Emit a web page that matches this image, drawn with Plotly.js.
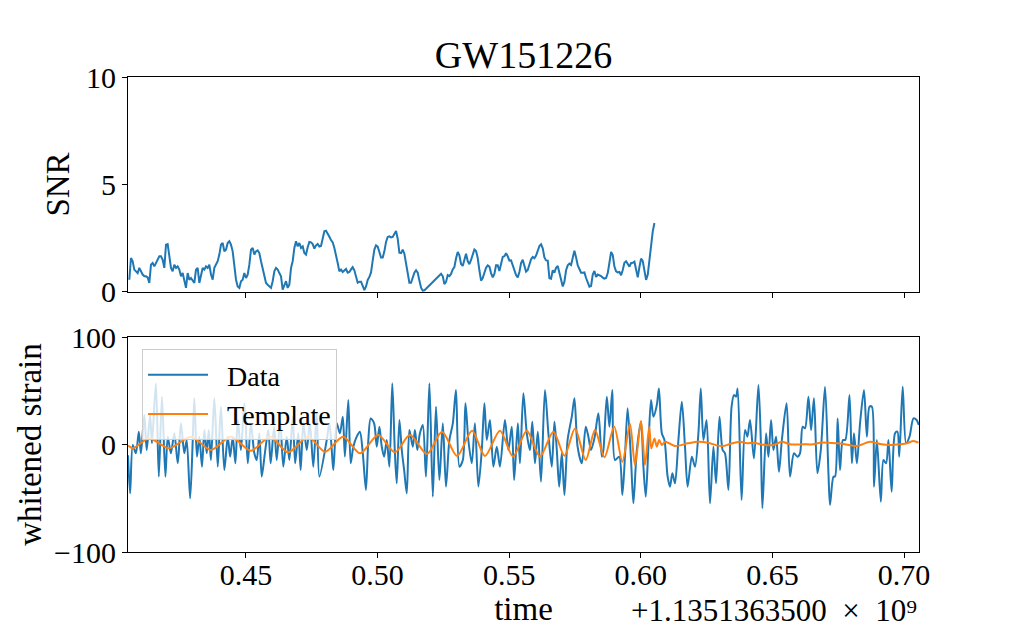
<!DOCTYPE html>
<html><head><meta charset="utf-8">
<script src="https://cdn.plot.ly/plotly-3.0.1.min.js"></script>
<style>html,body{margin:0;padding:0;background:#fff}</style>
</head><body><div id="chart" style="width:1021px;height:631px"></div>
<script>
// SNR time series (uniform sampling grid)
const snrT0 = 0.4057;
const snrDt = 0.0006333;
const snrValues = [
0.57,1.58,1.43,1.04,0.96,0.88,1.12,0.96,0.81,0.73,
0.73,0.68,0.42,1.27,1.35,1.19,1.35,1.58,1.66,1.66,
1.50,1.12,2.20,2.23,1.74,1.12,0.96,1.27,1.12,1.19,
1.04,0.73,0.88,0.57,0.19,0.88,0.57,0.65,0.50,0.42,
1.04,1.12,0.42,0.73,1.12,1.04,1.19,1.12,1.27,0.81,
0.57,1.12,1.27,1.43,1.74,2.20,2.28,1.89,1.97,2.28,
2.36,2.20,1.89,1.27,0.57,0.26,0.19,0.50,0.57,0.88,
0.65,0.81,1.27,1.97,2.05,1.74,1.89,1.94,1.81,1.43,
1.12,0.73,0.42,0.34,0.26,0.19,0.50,0.96,1.12,1.04,
0.88,0.73,0.11,0.34,0.50,0.19,0.34,1.12,1.43,2.05,
2.36,2.12,2.28,2.05,2.12,1.81,1.74,
2.08,2.33,2.31,2.23,2.02,2.17,2.23,2.11,2.14,2.43,
2.82,2.85,2.73,2.57,2.42,2.31,2.05,1.74,1.35,0.96,
1.04,0.93,0.99,1.07,0.90,0.93,1.05,1.16,1.01,0.70,
0.43,0.48,0.48,0.28,0.09,0.26,0.56,0.70,0.91,1.46,
1.97,2.17,2.11,1.86,1.60,1.60,1.89,2.33,2.56,2.59,
2.54,2.56,2.68,2.84,2.48,1.83,1.81,1.97,1.78,1.33,
0.79,0.43,0.43,0.68,0.90,1.01,0.90,0.53,0.20,0.06,
0.08,0.15,0.23,0.31,0.39,0.47,0.54,0.62,0.70,0.78,
0.85,0.74,0.37,0.47,0.79,0.74,0.84,1.05,1.16,1.57,
1.86,1.71,1.30,1.21,1.53,1.78,1.44,1.29,1.49,1.77,
1.98,1.91,1.58,1.01,
0.53,0.65,0.91,1.13,1.24,1.18,0.88,0.68,0.84,1.24,
1.24,0.98,1.30,1.63,1.66,1.80,1.66,1.46,1.47,1.27,
0.98,0.79,0.68,0.93,1.35,1.50,1.22,0.95,1.02,1.30,
1.52,1.63,1.57,1.69,1.95,2.14,2.22,2.03,1.61,1.47,
1.46,0.64,0.62,1.01,0.90,1.13,1.21,0.84,0.56,0.26,
0.48,1.01,1.24,1.32,1.26,1.66,1.92,1.61,1.24,1.07,
0.90,0.90,0.91,0.65,0.40,0.25,0.28,0.81,0.98,0.70,
0.81,0.78,0.74,0.67,0.62,0.65,0.88,1.36,1.86,1.72,
1.18,0.96,0.91,0.93,0.78,1.02,1.36,1.43,1.33,1.18,
1.35,1.36,1.41,1.04,0.68,1.16,1.55,1.44,1.07,0.56,
0.81,1.49,2.11,2.82,3.21
];
const snrTimes = snrValues.map((v, i) => snrT0 + i * snrDt);

// Whitened strain data
const strainTimes = [
0.4052,0.4060,0.4070,0.4082,0.4093,0.4101,0.4114,0.4123,0.4136,0.4143,
0.4158,0.4169,0.4181,0.4194,0.4203,0.4215,0.4228,0.4241,0.4253,0.4266,
0.4275,0.4288,0.4298,0.4304,0.4314,0.4323,0.4333,0.4342,0.4351,0.4359,
0.4367,0.4380,0.4393,0.4405,0.4418,0.4431,0.4440,0.4450,0.4460,0.4469,
0.4481,0.4494,0.4507,0.4519,0.4532,
0.4541,0.4551,0.4560,0.4572,0.4585,0.4594,0.4607,0.4617,0.4630,0.4642,
0.4655,0.4665,0.4678,0.4687,0.4699,0.4708,0.4718,0.4731,0.4743,0.4756,
0.4769,0.4779,
0.4807,0.4817,0.4826,0.4832,0.4845,0.4857,0.4868,0.4876,0.4889,0.4898,
0.4908,0.4921,0.4933,0.4944,0.4956,0.4965,0.4974,0.4987,0.4997,0.5007,
0.5016,0.5025,0.5035,0.5045,0.5056,0.5066,0.5073,0.5083,0.5092,0.5101,
0.5111,0.5121,0.5134,0.5142,0.5151,0.5161,0.5172,0.5184,0.5197,0.5210,
0.5222,0.5235,0.5248,0.5260,0.5273,0.5286,0.5298,0.5311,0.5324,0.5334,
0.5345,0.5358,0.5370,0.5383,0.5396,0.5406,0.5415,0.5427,0.5440,0.5453,
0.5465,0.5484,0.5497,0.5510,0.5519,
0.5533,0.5541,0.5554,0.5567,0.5579,0.5588,0.5598,0.5609,0.5621,0.5636,
0.5649,0.5662,0.5672,0.5681,0.5690,0.5700,0.5710,0.5722,0.5738,0.5748,
0.5760,0.5776,0.5791,0.5801,0.5811,0.5824,0.5839,0.5852,0.5858,0.5871,
0.5881,0.5892,0.5902,0.5918,0.5930,0.5940,0.5950,0.5963,0.5972,0.5985,
0.6001,0.6010,0.6019,0.6029,0.6039,0.6048,0.6061,0.6069,0.6080,0.6090,
0.6102,0.6111,0.6120,0.6130,0.6143,0.6156,0.6168,0.6178,0.6194,0.6206,
0.6219,0.6228,0.6238,0.6250,0.6263,
0.6276,0.6286,0.6299,0.6311,0.6320,0.6333,0.6345,0.6354,0.6362,0.6368,
0.6383,0.6396,0.6405,0.6415,0.6430,0.6447,0.6456,0.6462,0.6476,0.6485,
0.6495,0.6504,0.6514,0.6525,0.6536,0.6554,0.6567,0.6582,0.6595,0.6605,
0.6615,0.6624,0.6637,0.6647,0.6658,0.6671,0.6684,0.6700,0.6713,0.6719,
0.6732,0.6738,0.6748,0.6757,0.6768,0.6777,0.6793,0.6802,0.6810,0.6821,
0.6833,0.6848,0.6859,0.6869,0.6878,0.6886,0.6897,0.6912,0.6922,0.6932,
0.6941,0.6953,0.6966,0.6975,0.6982,0.6995,0.7008,0.7021,0.7036,0.7048,
0.7056
];
const strainValues = [
-10,-45.4,-0.5,-8.2,11.9,-8.2,27.4,-5.1,27.4,1.1,
56.9,-29.9,44.5,-29.9,7.3,-8.2,10.4,-17.5,19.7,-8.2,
4.2,-50.1,4.2,43,-11.3,7.3,-20.6,13.5,-8.2,13.5,
-14.4,43,-20.6,35.2,-23.7,7.3,-11.3,7.3,-17.5,22.8,
-5.1,38.3,-17.5,19.7,-8.2,
-14.4,10.4,-29.9,-8.2,13.5,-17.5,16.6,-14.4,22.8,-20.6,
7.3,-14.4,25.9,-17.5,10.4,-23.7,19.7,-5.1,19.7,-20.6,
29,-29.9,
4.2,19.7,-5.1,-23.7,19.7,10.4,25.9,-11.3,41.4,-17.5,
-2,7.3,11.9,-8.2,-42.3,4.2,24.3,19.7,-2,16.6,
-2,-11.3,4.2,-20.6,56.9,-8.2,-36.1,22.8,-5.1,-23.7,
-45.4,13.5,-2,13.5,-5.1,10.4,18.1,-29.9,56.9,-48.5,
35.2,-33,19.7,-39.2,4.2,19.7,50.7,-20.6,-14.4,38.3,
4.2,-17.5,19.7,-39.2,-5.1,38.3,4.2,22.8,-20.6,-2,
-20.6,22.8,-5.1,16.6,-33,
19.7,-17.5,47.6,10.4,-5.1,21.2,-17.5,11.9,-34.6,50.7,
10.4,-20.6,21.2,-5.1,-39.2,-8.2,-47,4.2,25.9,43,
-2,-17.5,16.6,7.3,-5.1,5.8,29,-11.3,-5.1,44.5,
16.6,50.7,-14.4,-11.3,-47,-11.3,33.7,-14.4,-54.7,-5.1,
21.2,-20.6,-48.5,-2,41.4,25.9,36.7,52.2,10.4,4.2,
-29.9,-39.2,-26.8,-36.1,4.2,39.8,-2,-39.2,-11.3,-20.6,
10.4,52.2,4.2,22.8,-54.7,
-2,-36.1,25.9,-5.1,-8.2,-42.3,35.2,46,44.5,52.2,
-51.6,13.5,7.3,22.8,-12.9,55.3,4.2,-59.4,10.4,-11.3,
22.8,-5.1,7.3,-25.3,4.2,38.3,-29.9,-8.2,-11.3,-8.2,
16.6,15.1,44.5,13.5,43,-26.8,-5.1,53.8,-26.8,-56.3,
-29.9,-29.9,24.3,-23.7,4.2,4.2,46,-17.5,10.4,-17.5,
19.7,50.7,7.3,35.2,35.2,-39.2,4.2,-53.2,-14.4,-17.5,
4.2,-43.9,10.4,11.9,-11.3,53.8,1.1,7.3,24.3,22.8,
18.1
];

// Template
const templateTimes = [
0.4052,0.4071,0.4132,0.4208,0.4291,0.4367,0.4443,0.4519,0.4592,0.4660,
0.4736,0.4801,0.4869,0.4934,0.5002,0.5066,0.5123,0.5188,0.5245,0.5302,
0.5359,0.5408,0.5465,0.5515,0.5567,0.5617,0.5668,0.5710,0.5750,0.5791,
0.5826,0.5862,0.5899,0.5930,0.5959,0.5978,0.6001,0.6016,0.6032,0.6040,
0.6052,0.6061,0.6070,0.6080,0.6093,0.6130,0.6179,0.6217,0.6256,0.6289,
0.6314,0.6339,0.6377,0.6403,0.6428,0.6466,0.6504,0.6536,0.6567,0.6618,
0.6656,0.6681,0.6745,0.6770,0.6821,0.6871,0.6909,0.6947,0.6985,0.7011,
0.7036,0.7055
];
const templateValues = [
-1,-3.5,5.8,-3.5,7.3,-5.1,7.3,-5.8,7.3,-7.3,
7.3,-6.7,7.3,-8.2,8.8,-7.3,8.8,-8.8,11.9,-10.7,
12.8,-10.7,12.8,-11.3,12.8,-11.3,11.9,-10.4,15.0,-14.4,
13.5,-11.9,16.6,-16,19.1,-19.1,21.9,-19.1,16.6,-3.6,
5.7,-2,4.2,-0.5,2.6,-1.4,1.1,2.6,1.7,-0.8,
-1.4,0.5,2.6,1.1,1.7,-0.2,-0.5,2.6,0.2,0.2,
0.2,1.7,1.1,0.5,-1.4,2.6,0.5,-0.5,0.2,1.1,
3.3,1.7
];

const titleText = 'GW151226';
const xTitle = 'time';
const offsetText = '+1.1351363500\u2002×\u200210\u2079';
const legendNames = ['\u00a0\u00a0Data', '\u00a0\u00a0Template'];

const FONT = 'Liberation Serif, Times New Roman, serif';
const BLUE = '#1f77b4', ORANGE = '#ff7f0e';
const XR = [0.4052, 0.7057];

const axBase = {
  range: XR, tick0: 0.45, dtick: 0.05, tickformat: '.2f',
  ticks: 'outside', ticklen: 5, tickwidth: 1, tickcolor: '#000',
  showline: true, mirror: true, linecolor: '#000', linewidth: 1,
  showgrid: false, zeroline: false,
  tickfont: {family: FONT, size: 30, color: '#000'}
};

const traces = [
  {x: snrTimes, y: snrValues, type: 'scatter', mode: 'lines', xaxis: 'x', yaxis: 'y',
   line: {color: BLUE, width: 2}, showlegend: false, hoverinfo: 'skip'},
  {x: strainTimes, y: strainValues, type: 'scatter', mode: 'lines', xaxis: 'x2', yaxis: 'y2',
   name: legendNames[0], line: {color: BLUE, width: 2, shape: 'spline', smoothing: 0.8}},
  {x: templateTimes, y: templateValues, type: 'scatter', mode: 'lines', xaxis: 'x2', yaxis: 'y2',
   name: legendNames[1], line: {color: ORANGE, width: 2, shape: 'spline', smoothing: 0.8}}
];

const layout = {
  width: 1021, height: 631,
  margin: {l: 128, r: 102, t: 77, b: 79},
  paper_bgcolor: '#fff', plot_bgcolor: '#fff',
  font: {family: FONT, color: '#000'},
  title: {text: titleText, font: {family: FONT, size: 38, color: '#000'},
          xref: 'paper', x: 0.5, xanchor: 'center', yref: 'container', y: 1 - 55/631, yanchor: 'middle'},
  xaxis: Object.assign({}, axBase, {anchor: 'y', showticklabels: false}),
  yaxis: Object.assign({}, axBase, {domain: [0.5474, 1], range: [0, 10], tick0: 0, dtick: 5, tickformat: '',
    title: {text: 'SNR', font: {family: FONT, size: 33, color: '#000'}, standoff: 6}}),
  xaxis2: Object.assign({}, axBase, {anchor: 'y2', ticklabelstandoff: -9,
    title: {text: xTitle, font: {family: FONT, size: 33, color: '#000'}, standoff: 0}}),
  yaxis2: Object.assign({}, axBase, {domain: [0, 0.4526], range: [-100, 100], tick0: 0, dtick: 100, tickformat: '',
    title: {text: 'whitened strain', font: {family: FONT, size: 33, color: '#000'}, standoff: 2}}),
  legend: {x: 0.0177, y: 0.4274, xanchor: 'left', yanchor: 'top',
    bgcolor: 'rgba(255,255,255,0.8)', bordercolor: '#cccccc', borderwidth: 1,
    font: {family: FONT, size: 28, color: '#000'}, itemwidth: 60, tracegroupgap: 0},
  annotations: [{text: offsetText, xref: 'paper', yref: 'paper', x: 1, y: -0.1222,
    xanchor: 'right', yanchor: 'middle', showarrow: false,
    font: {family: FONT, size: 31, color: '#000'}}],
  showlegend: true
};

Plotly.newPlot('chart', traces, layout, {displayModeBar: false, staticPlot: true});
</script></body></html>
